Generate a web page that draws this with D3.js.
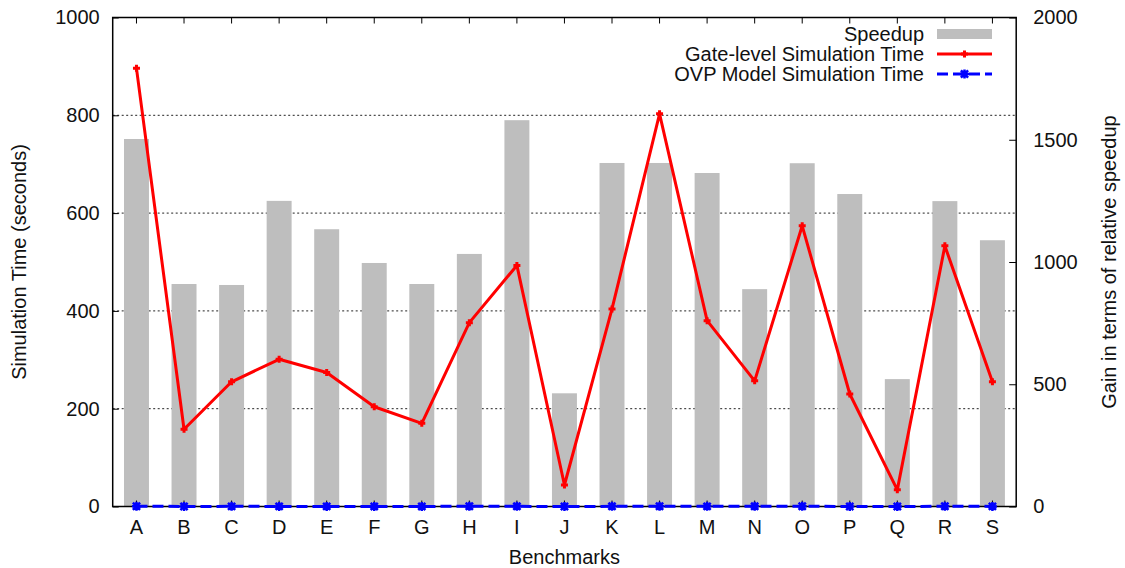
<!DOCTYPE html>
<html>
<head>
<meta charset="utf-8">
<script src="https://cdn.jsdelivr.net/npm/d3@7"></script>
<style>
  html, body { margin: 0; padding: 0; background: #fff; }
  svg { display: block; font-family: "Liberation Sans", Arial, sans-serif; }
</style>
</head>
<body>
<svg id="chart" width="1125" height="568"></svg>
<script>
// Benchmarks on the x axis
const categories = ["A","B","C","D","E","F","G","H","I","J","K","L","M","N","O","P","Q","R","S"];

// Relative speedup (right axis)
const speedup = [1503, 910, 906, 1250, 1134, 996, 910, 1033, 1580, 463, 1405, 1405, 1364, 889, 1404, 1278, 521, 1249, 1089];

// Gate-level simulation time in seconds (left axis)
const gateTime = [896, 158, 255, 301, 274, 204, 170, 376, 493, 44, 404, 803, 380, 257, 574, 230, 34, 533, 255];

// OVP model simulation time in seconds (left axis)
const ovpTime = [0.6, 0.17, 0.28, 0.24, 0.24, 0.2, 0.19, 0.36, 0.31, 0.09, 0.29, 0.57, 0.28, 0.29, 0.41, 0.18, 0.06, 0.43, 0.23];

const leftTicks = [0, 200, 400, 600, 800, 1000];
const rightTicks = [0, 500, 1000, 1500, 2000];
const gridTicks = [200, 400, 600, 800];

const legendItems = ["Speedup", "Gate-level Simulation Time", "OVP Model Simulation Time"];

const svg = d3.select("#chart");
const plot = { left: 112.7, right: 1016.2, top: 17.5, bottom: 506.5 };
const fontSize = 20;

const x = d3.scaleBand().domain(categories).range([plot.left, plot.right]).padding(0);
const yL = d3.scaleLinear().domain([0, 1000]).range([plot.bottom, plot.top]);
const yR = d3.scaleLinear().domain([0, 2000]).range([plot.bottom, plot.top]);
const cx = d => x(d) + x.bandwidth() / 2;
const barW = x.bandwidth() * 0.525;

// Dotted horizontal grid lines
svg.append("g").selectAll("line").data(gridTicks).join("line")
  .attr("x1", plot.left).attr("x2", plot.right)
  .attr("y1", d => yL(d)).attr("y2", d => yL(d))
  .attr("stroke", "#222").attr("stroke-width", 1)
  .attr("stroke-dasharray", "2,2.5");

// Speedup bars
svg.append("g").selectAll("rect").data(categories).join("rect")
  .attr("x", d => cx(d) - barW / 2)
  .attr("width", barW)
  .attr("y", (d, i) => yR(speedup[i]))
  .attr("height", (d, i) => yR(0) - yR(speedup[i]))
  .attr("fill", "#bebebe");

// Frame and axes
function styleAxis(g) {
  g.select(".domain").remove();
  g.selectAll(".tick line").attr("stroke", "#000").attr("stroke-width", 1);
  g.selectAll(".tick text").attr("fill", "#111").style("font-size", fontSize + "px")
    .style("font-family", "'Liberation Sans', Arial, sans-serif");
}

svg.append("g").attr("transform", `translate(${plot.left},0)`)
  .call(d3.axisLeft(yL).tickValues(leftTicks).tickSize(-6).tickPadding(13).tickFormat(d3.format("d")))
  .call(styleAxis);

svg.append("g").attr("transform", `translate(${plot.right},0)`)
  .call(d3.axisRight(yR).tickValues(rightTicks).tickSize(-7).tickPadding(17).tickFormat(d3.format("d")))
  .call(styleAxis);

svg.append("g").attr("transform", `translate(0,${plot.bottom})`)
  .call(d3.axisBottom(x).tickSize(-6).tickPadding(13.5))
  .call(styleAxis);

svg.append("g").attr("transform", `translate(0,${plot.top})`)
  .call(d3.axisTop(x).tickSize(-6).tickFormat(""))
  .call(styleAxis);

svg.append("rect")
  .attr("x", plot.left).attr("y", plot.top)
  .attr("width", plot.right - plot.left).attr("height", plot.bottom - plot.top)
  .attr("fill", "none").attr("stroke", "#000").attr("stroke-width", 1.5);

// Point markers
function plusMarker(g, px, py, h, color, w) {
  g.append("path").attr("d", `M${px - h},${py}H${px + h}M${px},${py - h}V${py + h}`)
    .attr("stroke", color).attr("stroke-width", w).attr("fill", "none");
}
function starMarker(g, px, py, h, color, w) {
  const k = h * 0.8;
  g.append("path")
    .attr("d", `M${px - h},${py}H${px + h}M${px},${py - h}V${py + h}` +
               `M${px - k},${py - k}L${px + k},${py + k}M${px - k},${py + k}L${px + k},${py - k}`)
    .attr("stroke", color).attr("stroke-width", w).attr("fill", "none");
}

// Gate-level simulation time line
const gateLine = d3.line().x((d, i) => cx(categories[i])).y(d => yL(d));
svg.append("path").datum(gateTime)
  .attr("d", gateLine)
  .attr("fill", "none").attr("stroke", "#ff0000").attr("stroke-width", 3)
  .attr("stroke-linejoin", "round");
const gateMarks = svg.append("g");
gateTime.forEach((v, i) => plusMarker(gateMarks, cx(categories[i]), yL(v), 3.5, "#ff0000", 3));

// OVP model simulation time line
const ovpLine = d3.line().x((d, i) => cx(categories[i])).y(d => yL(d));
svg.append("path").datum(ovpTime)
  .attr("d", ovpLine)
  .attr("fill", "none").attr("stroke", "#0000ff").attr("stroke-width", 3)
  .attr("stroke-dasharray", "11,5");
const ovpMarks = svg.append("g");
ovpTime.forEach((v, i) => starMarker(ovpMarks, cx(categories[i]), yL(v), 4.5, "#0000ff", 2.5));

// Legend
const legend = svg.append("g");
const legTextX = 924, legSampleX1 = 937, legSampleX2 = 992;
const legY = [34, 54, 74];
legendItems.forEach((label, i) => {
  legend.append("text")
    .attr("x", legTextX).attr("y", legY[i]).attr("dy", "0.35em")
    .attr("text-anchor", "end").attr("fill", "#111")
    .style("font-size", fontSize + "px")
    .text(label);
});
legend.append("rect")
  .attr("x", legSampleX1).attr("y", legY[0] - 5)
  .attr("width", legSampleX2 - legSampleX1).attr("height", 10)
  .attr("fill", "#bebebe");
legend.append("line")
  .attr("x1", legSampleX1).attr("x2", legSampleX2).attr("y1", legY[1]).attr("y2", legY[1])
  .attr("stroke", "#ff0000").attr("stroke-width", 3);
plusMarker(legend, (legSampleX1 + legSampleX2) / 2, legY[1], 3.5, "#ff0000", 3);
legend.append("line")
  .attr("x1", legSampleX1).attr("x2", legSampleX2).attr("y1", legY[2]).attr("y2", legY[2])
  .attr("stroke", "#0000ff").attr("stroke-width", 3).attr("stroke-dasharray", "11,5");
starMarker(legend, (legSampleX1 + legSampleX2) / 2, legY[2], 4.5, "#0000ff", 2.5);

// Axis titles
svg.append("text")
  .attr("transform", `translate(19,${(plot.top + plot.bottom) / 2}) rotate(-90)`)
  .attr("text-anchor", "middle").attr("dy", "0.35em").attr("fill", "#111")
  .style("font-size", fontSize + "px")
  .text("Simulation Time (seconds)");

svg.append("text")
  .attr("transform", `translate(1109,${(plot.top + plot.bottom) / 2}) rotate(-90)`)
  .attr("text-anchor", "middle").attr("dy", "0.35em").attr("fill", "#111")
  .style("font-size", fontSize + "px")
  .text("Gain in terms of relative speedup");

svg.append("text")
  .attr("x", (plot.left + plot.right) / 2).attr("y", 564)
  .attr("text-anchor", "middle").attr("fill", "#111")
  .style("font-size", fontSize + "px")
  .text("Benchmarks");
</script>
</body>
</html>
